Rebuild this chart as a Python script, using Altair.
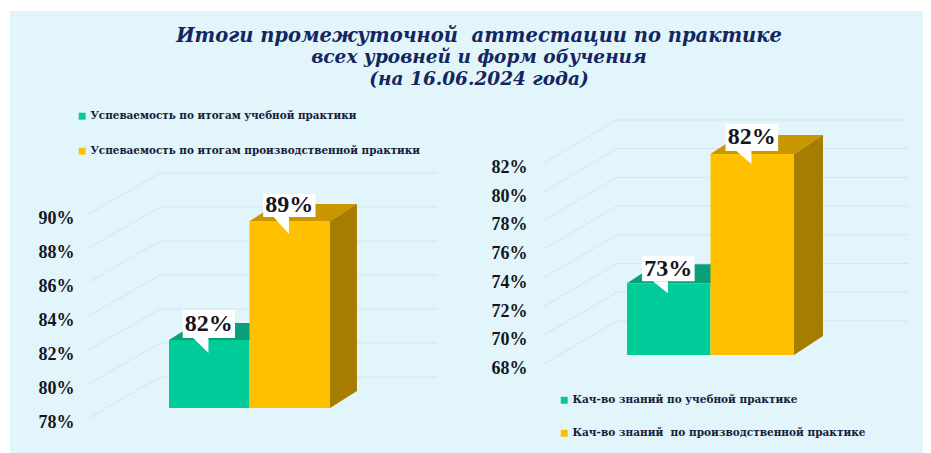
import altair as alt
import pandas as pd

# ---- values ----
TITLE_LINES = ["Итоги промежуточной\u00a0 аттестации по практике",
               "всех уровней и форм обучения",
               "(на 16.06.2024 года)"]
LEFT_SERIES = ["Успеваемость по итогам учебной практики",
               "Успеваемость по итогам производственной практики"]
LEFT_VALUES = [82, 89]
LEFT_TICKS = [78, 80, 82, 84, 86, 88, 90]
RIGHT_SERIES = ["Кач-во знаний по учебной практике",
                "Кач-во знаний\u00a0 по производственной практике"]
RIGHT_VALUES = [73, 82]
RIGHT_TICKS = [68, 70, 72, 74, 76, 78, 80, 82]

# ---- styles ----
BG = "#e2f5fa"
FRONT = ["#00cc99", "#ffc000"]
TOP = ["#0a9f78", "#c99700"]
SIDE = "#a67d00"
GRID = "#d3e6ec"
INK = "#15151f"
NAVY = "#14265f"
SERIF = "Liberation Serif"
WIDE = "DejaVu Serif"
ROW_H = 353


def panel(series, values, ticks, width, x_dom, y_dom, geo):
    axis = alt.Axis(values=ticks, labelExpr="datum.value + '%'", domain=False, ticks=False, grid=False,
                    title=None, offset=geo["axis_offset"], labelPadding=0, labelOffset=geo["label_offset"],
                    labelFont=SERIF, labelFontWeight="bold", labelFontSize=18, labelColor=INK)
    x = lambda f: alt.X(f, type="quantitative", scale=alt.Scale(domain=x_dom, nice=False, zero=False), axis=None)
    y = lambda f: alt.Y(f, type="quantitative", scale=alt.Scale(domain=y_dom, nice=False, zero=False), axis=axis)
    base = ticks[0]
    dx, dv = geo["dx"], geo["dv"]
    layers = []

    # back-wall grid lines and the diagonals running to the front edge
    wall = pd.DataFrame({"v": [t + geo["wall_v"] for t in ticks], "x0": geo["wall_x0"], "x1": geo["wall_x1"]})
    layers.append(alt.Chart(wall).mark_rule(color=GRID, strokeWidth=1).encode(x=x("x0"), x2="x1", y=y("v")))
    diag = pd.DataFrame([
        {"t": t, "x": px, "v": t + off}
        for t in ticks for px, off in ((geo["wall_x0"], geo["wall_v"]), (geo["diag_x"], geo["diag_v"]))
    ])
    layers.append(alt.Chart(diag).mark_line(color=GRID, strokeWidth=1).encode(x=x("x"), y=y("v"), detail="t:N"))

    # 3-D bars
    for i, val in enumerate(values):
        top = pd.DataFrame({"v": [val, val + dv], "x": [i, i + dx], "x2": [i + 1, i + 1 + dx]})
        layers.append(alt.Chart(top).mark_area(orient="horizontal", color=TOP[i]).encode(
            y=y("v"), x=x("x"), x2="x2"))
        if i == len(values) - 1:
            side = pd.DataFrame({"x": [i + 1, i + 1 + dx], "lo": [base, base + dv], "hi": [val, val + dv]})
            layers.append(alt.Chart(side).mark_area(color=SIDE).encode(x=x("x"), y=y("lo"), y2="hi"))
        front = pd.DataFrame({"s": [series[i]], "x": [i], "x2": [i + 1], "lo": [base], "hi": [val]})
        layers.append(alt.Chart(front).mark_rect().encode(
            x=x("x"), x2="x2", y=y("lo"), y2="hi",
            color=alt.Color("s:N", scale=alt.Scale(domain=series, range=FRONT),
                            legend=alt.Legend(title=None, orient="none", legendX=geo["leg_x"], legendY=geo["leg_y"],
                                              symbolType="square", symbolSize=48, symbolStrokeWidth=0,
                                              rowPadding=geo["leg_gap"], padding=0, labelOffset=3,
                                              labelFont=WIDE, labelFontWeight="bold", labelFontSize=geo["leg_font"],
                                              labelColor="#14203a", labelLimit=500))))

    # callouts
    for i, val in enumerate(values):
        b0, b1 = geo["box_v"][i]
        tail = pd.DataFrame({"x": [i + geo["tail_x0"], i + geo["tail_x1"]],
                             "a": [val + b0, val + b0],
                             "b": [val + b0, val + geo["tip_v"]]})
        layers.append(alt.Chart(tail).mark_area(color="white").encode(x=x("x"), y=y("a"), y2="b"))
        box = pd.DataFrame({"x": [i + geo["box_x0"]], "x2": [i + geo["box_x1"]], "lo": [val + b0], "hi": [val + b1]})
        layers.append(alt.Chart(box).mark_rect(color="white").encode(x=x("x"), x2="x2", y=y("lo"), y2="hi"))
        lab = pd.DataFrame({"x": [i + (geo["box_x0"] + geo["box_x1"]) / 2], "v": [val + (b0 + b1) / 2], "t": [f"{val}%"]})
        layers.append(alt.Chart(lab).mark_text(font=SERIF, fontWeight="bold", fontSize=24, color=INK, baseline="middle").encode(
            x=x("x"), y=y("v"), text="t:N"))

    return alt.layer(*layers).properties(width=width, height=ROW_H)


left = panel(LEFT_SERIES, LEFT_VALUES, LEFT_TICKS, 455,
             [(10 - 169) / 80.5, (465 - 169) / 80.5],
             [78 - (453 - 408) / 17, 78 + (408 - 100) / 17],
             dict(dx=0.335, dv=1.0, wall_v=1.82, wall_x0=-0.11, wall_x1=3.33, diag_x=-1.0, diag_v=-0.59,
                  axis_offset=-64, label_offset=14.5, leg_x=67, leg_y=11, leg_gap=24, leg_font=10.4,
                  box_v=[(0.12, 1.76), (0.24, 1.59)], box_x0=0.17, box_x1=0.82,
                  tail_x0=0.30, tail_x1=0.49, tip_v=-0.76))

right = panel(RIGHT_SERIES, RIGHT_VALUES, RIGHT_TICKS, 458,
              [(465 - 627) / 83.5, (923 - 627) / 83.5],
              [68 - (453 - 355) / 14.36, 68 + (355 - 100) / 14.36],
              dict(dx=0.347, dv=1.32, wall_v=2.37, wall_x0=-0.12, wall_x1=3.365, diag_x=-1.02, diag_v=-0.70,
                   axis_offset=-62, label_offset=13.5, leg_x=94, leg_y=295, leg_gap=22, leg_font=10.5,
                   box_v=[(0.14, 1.88), (0.21, 2.09)], box_x0=0.18, box_x1=0.81,
                   tail_x0=0.31, tail_x1=0.49, tip_v=-0.70))

title_layers = []
for line, size, ypos in zip(TITLE_LINES, [19.5, 18.5, 18.5], [25, 46, 68]):
    title_layers.append(alt.Chart(pd.DataFrame({"t": [line]})).mark_text(
        font=WIDE, fontStyle="italic", fontWeight="bold", fontSize=size, color=NAVY, baseline="middle"
    ).encode(x=alt.value(469), y=alt.value(ypos), text="t:N"))
title = alt.layer(*title_layers).properties(width=913, height=89)

row = alt.hconcat(left, right, spacing=0).resolve_scale(color="independent").resolve_legend(color="independent")
chart = alt.vconcat(title, row, spacing=0).resolve_scale(color="independent").resolve_legend(color="independent").properties(
    background="white",
    padding={"left": 2, "top": 3, "right": 0, "bottom": 0},
).configure_view(fill=BG, stroke=None).configure_concat(spacing=0)

chart.save("out.html", embed_options={"renderer": "svg", "actions": False})
